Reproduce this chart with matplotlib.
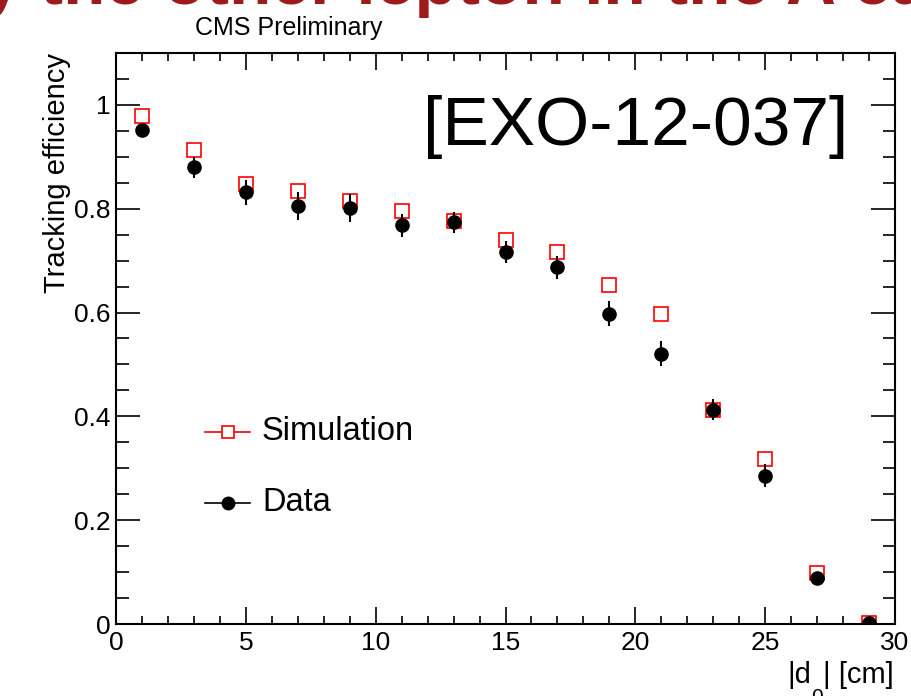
import numpy as np
import matplotlib
matplotlib.use("Agg")
import matplotlib.pyplot as plt
from matplotlib.ticker import MultipleLocator

plt.rcParams["font.family"] = ["Liberation Sans", "DejaVu Sans"]

d0_bins = [1, 3, 5, 7, 9, 11, 13, 15, 17, 19, 21, 23, 25, 27, 29]
sim_eff = [0.979, 0.913, 0.848, 0.834, 0.815, 0.795, 0.776, 0.739,
           0.716, 0.654, 0.598, 0.413, 0.317, 0.098, 0.002]
data_eff = [0.952, 0.880, 0.832, 0.805, 0.801, 0.768, 0.774, 0.716,
            0.687, 0.598, 0.521, 0.413, 0.286, 0.089, 0.002]
data_err = [0.008, 0.020, 0.024, 0.027, 0.027, 0.022, 0.020, 0.021,
            0.022, 0.024, 0.024, 0.020, 0.022, 0.010, 0.002]

W, H = 911, 696
fig = plt.figure(figsize=(W / 100, H / 100), dpi=100)
ax = fig.add_axes([116 / W, 1 - 624 / H, (895 - 116) / W, (624 - 53) / H])

ax.errorbar(d0_bins, data_eff, yerr=data_err, fmt="o", color="black",
            markersize=9.5, elinewidth=1.5, capsize=0, zorder=3)
ax.plot(d0_bins, sim_eff, "s", markerfacecolor="none", markeredgecolor="red",
        markersize=10, markeredgewidth=1.2, zorder=2)

ax.set_xlim(0, 30)
ax.set_ylim(0, 1.1)
ax.xaxis.set_major_locator(MultipleLocator(5))
ax.xaxis.set_minor_locator(MultipleLocator(1))
ax.yaxis.set_minor_locator(MultipleLocator(0.05))
ax.set_yticks([0, 0.2, 0.4, 0.6, 0.8, 1.0])
ax.set_yticklabels(["0", "0.2", "0.4", "0.6", "0.8", "1"])
ax.tick_params(axis="both", which="both", direction="in", top=True, right=True,
               labelsize=19, width=1.2, colors="black")
ax.tick_params(axis="x", which="major", length=12, pad=5)
ax.tick_params(axis="x", which="minor", length=6)
ax.tick_params(axis="y", which="major", length=17, pad=4)
ax.tick_params(axis="y", which="minor", length=9)
for s in ax.spines.values():
    s.set_linewidth(1.5)

ax.set_ylabel("Tracking efficiency", fontsize=21, loc="top", labelpad=2)

# x title in ROOT style: |d_0| [cm] with a deep subscript
fig.text(811 / W, 1 - 683 / H, "|d", fontsize=21, ha="right", va="baseline")
fig.text(817 / W, 1 - 688 / H, "0", fontsize=15, ha="center", va="top")
fig.text(823 / W, 1 - 683 / H, "| [cm]", fontsize=21, ha="left", va="baseline")

ax.text(0.94, 0.87, "[EXO-12-037]", transform=ax.transAxes, fontsize=50,
        ha="right", va="center")

# legend drawn by hand like the ROOT TLegend
lx0, lx1 = 3.43, 5.16
ax.plot([lx0, lx1], [0.37, 0.37], color="red", lw=1.2)
ax.plot([(lx0 + lx1) / 2], [0.37], "s", markerfacecolor="white",
        markeredgecolor="red", markersize=9, markeredgewidth=1.2)
ax.text(5.62, 0.37, "Simulation", fontsize=23.5, va="center")
ax.plot([lx0, lx1], [0.234, 0.234], color="black", lw=1.2)
ax.plot([(lx0 + lx1) / 2], [0.234], "o", color="black", markersize=9)
ax.text(5.62, 0.234, "Data", fontsize=23.5, va="center")

fig.text(195 / W, 1 - 28 / H, "CMS Preliminary", fontsize=18, va="center")
fig.text(-0.02, 1 - 4 / H, "y the other lepton in the A cal",
         fontsize=50, fontweight="bold", color="#9e1b1b", va="baseline")

fig.savefig("out.png", dpi=100)
